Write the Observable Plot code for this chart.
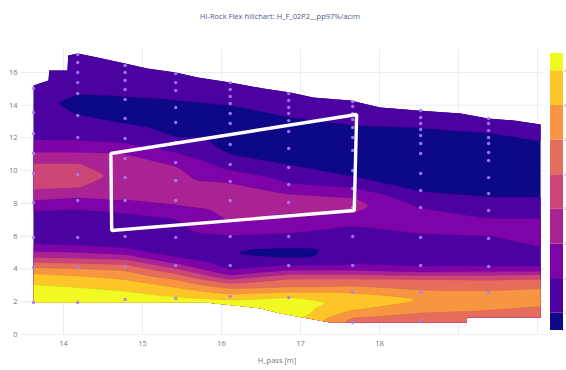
<!DOCTYPE html>
<html><head><meta charset="utf-8">
<script src="https://cdn.jsdelivr.net/npm/d3@7"></script>
<script src="https://cdn.jsdelivr.net/npm/@observablehq/plot@0.6"></script>
<style>
html,body{margin:0;padding:0;background:#fff;overflow:hidden;}
#wrap{position:relative;width:566px;height:370px;overflow:hidden;font-family:"Open Sans",sans-serif;}
#title{position:absolute;top:11px;left:0;width:560px;text-align:center;font-size:7.5px;color:#4d5b7c;}
#chart{position:absolute;left:0;top:0;width:566px;}
#cbar{position:absolute;left:546px;top:0;width:20px;}
#cbar svg{max-width:none !important;}
</style></head><body>
<div id="wrap"><div id="chart"></div><div id="cbar"></div><div id="title"></div></div>
<script>
const titleText = "Hi-Rock Flex hillchart: H_F_02P2__pp97%/acim";
const xLabel = "H_pass [m]";
const xTicks = [14, 15, 16, 17, 18];
const xGrid = [14, 15, 16, 17, 18, 19, 20];
const yTicks = [0, 2, 4, 6, 8, 10, 12, 14, 16];
const levels = [0, 1, 2, 3, 4, 5, 6, 7, 8];
const colorTickPos = [0.5, 1.5, 2.5, 3.5, 4.5, 5.5, 6.5, 7.5];
const colorTickLabels = ["1", "2", "2", "3", "3", "2", "3", "3"];

// contour profiles: for each column x, [y, level value] pairs (top -> bottom)
const profileX = [13.62, 14.18, 14.78, 15.42, 16.11, 16.85, 17.66, 18.52, 19.38, 20.04];
const profiles = [
  [[16.5,1.5],[15.2,1.5],[14.29,1.5],[11.84,2],[11.11,3],[10.5,4],[9.65,4.5],[8.79,4],[8.18,3],[7.57,2],[6.47,1.5],[5.43,2],[5.07,3],[4.70,4],[4.40,5],[4.09,6],[3.72,7],[3.11,8],[1.95,8.5],[1.0,8.5]],
  [[18.0,1.5],[17.09,1.5],[14.59,1],[14.0,0.5],[13.43,1],[12.5,1.5],[11.84,2],[11.11,3],[10.5,4],[9.65,4.5],[8.91,4],[8.36,3],[7.69,2],[6.5,1.5],[5.37,2],[5.01,3],[4.64,4],[4.33,5],[4.03,6],[3.60,7],[2.93,8],[1.95,8.5],[1.0,8.5]],
  [[17.5,1.5],[16.54,1.5],[14.47,1],[13.67,0.5],[12.88,1],[12.27,1.5],[11.66,2],[11.05,3],[9.7,3.7],[8.18,3],[7.45,2],[6.3,1.5],[5.19,2],[4.88,3],[4.58,4],[4.27,5],[3.91,6],[3.36,7],[2.69,8],[1.95,8.5],[1.0,8.5]],
  [[17.0,1.5],[16.0,1.5],[14.29,1],[13.0,0.5],[12.03,1],[11.5,1.5],[11.11,2],[10.32,3],[9.0,3.6],[7.88,3],[7.08,2],[5.9,1.5],[4.64,2],[4.33,3],[4.03,4],[3.72,5],[3.36,6],[2.87,7],[2.32,8],[1.89,8.5],[1.0,8.5]],
  [[16.5,1.5],[15.38,1.5],[13.98,1],[12.6,0.5],[10.93,1],[10.45,1.5],[10.01,2],[9.28,3],[8.0,3.6],[6.84,3],[6.04,2],[5.25,1.2],[4.95,1.0],[4.64,1.2],[3.91,2],[3.60,3],[3.36,4],[3.11,5],[2.81,6],[2.44,7],[2.14,8],[1.71,8.6],[0.8,8.6]],
  [[16.0,1.5],[14.77,1.5],[13.25,1],[11.8,0.5],[10.32,1],[9.8,1.5],[9.22,2],[8.61,3],[7.9,3.55],[7.39,3],[6.17,2],[5.7,1.5],[5.25,1],[4.98,0.4],[4.70,1],[4.45,1.5],[4.21,2],[3.91,3],[3.66,4],[3.42,5],[2.87,6],[2.56,7],[2.32,8],[1.7,8.6],[1.10,8.6],[0.5,8.6]],
  [[15.5,1.5],[14.29,1.5],[12.76,1],[11.2,0.5],[9.58,1],[8.97,2],[8.36,3],[7.9,3.4],[7.39,3],[6.65,2],[5.5,1.5],[4.21,2],[3.91,3],[3.66,4],[3.42,5],[2.93,6],[2.56,7],[2.0,7.75],[1.47,7],[1.04,6],[0.73,5.6],[0.3,5.6]],
  [[15.0,1.5],[13.68,1.5],[12.64,1],[10.2,0.5],[8.67,1],[7.75,2],[6.9,2.5],[6.17,2],[5.0,1.5],[4.09,2],[3.79,3],[3.60,4],[3.42,5],[2.69,6],[2.14,7.1],[1.34,6],[0.85,5.5],[0.4,5.5]],
  [[14.5,1.5],[13.19,1.5],[12.33,1],[9.9,0.5],[8.36,1],[7.08,2],[6.6,2.5],[6.04,2],[5.0,1.5],[4.09,2],[3.85,3],[3.60,4],[3.36,5],[2.69,6],[2.2,6.5],[1.47,6],[0.98,5.5],[0.4,5.5]],
  [[14.0,1.5],[12.82,1.5],[11.84,1],[9.5,0.5],[8.36,1],[7.08,2],[6.5,2.5],[5.31,2],[4.8,1.5],[4.09,2],[3.85,3],[3.66,4],[3.42,5],[2.81,6],[2.3,6.5],[1.71,6],[1.04,5.5],[0.4,5.5]]
];

// outline of the measured region
const topX = [13.62, 13.81, 13.82, 14.05, 14.06, 14.18, 14.43, 14.78, 15.06, 15.42, 15.70, 16.11, 16.53, 16.87, 17.16, 17.63, 18.01, 18.48, 19.03, 19.37, 19.70, 20.04];
const topY = [15.20, 15.51, 16.12, 16.12, 17.03, 17.16, 16.91, 16.54, 16.24, 16.00, 15.69, 15.38, 15.02, 14.77, 14.47, 14.29, 13.86, 13.68, 13.49, 13.19, 13.06, 12.82];
const bottomX = [13.62, 15.80, 16.49, 16.75, 17.38, 19.10, 19.11, 20.04];
const bottomY = [1.95, 1.95, 1.60, 1.28, 0.73, 0.73, 1.04, 1.04];

// measurement points
const dotColX = [13.62, 14.18, 14.78, 15.42, 16.11, 16.85, 17.66, 18.52, 19.38];
const dotColY = [
  [15.02, 13.55, 12.27, 11.05, 9.83, 8.06, 5.92, 4.09, 1.95],
  [17.09, 16.61, 16.0, 15.38, 14.71, 13.37, 12.03, 9.77, 8.18, 5.92, 4.09, 1.95],
  [16.42, 16.0, 15.51, 14.96, 14.35, 13.19, 11.97, 10.74, 9.58, 8.18, 5.98, 4.15, 2.14],
  [15.93, 15.38, 14.90, 13.86, 12.94, 11.72, 10.50, 9.40, 8.18, 5.92, 4.21, 2.20],
  [15.38, 14.96, 14.53, 14.10, 13.49, 12.88, 11.60, 10.38, 9.34, 8.18, 5.98, 4.21, 2.32],
  [14.71, 14.29, 13.86, 13.49, 13.06, 12.39, 11.36, 10.20, 9.16, 8.06, 5.98, 4.21, 2.26],
  [14.22, 13.92, 13.49, 13.13, 12.64, 12.03, 11.23, 10.01, 8.91, 7.75, 5.98, 4.21, 2.56, 0.73],
  [13.68, 13.25, 12.88, 12.52, 12.15, 11.66, 11.05, 9.83, 8.79, 7.75, 5.92, 4.21, 2.56, 0.85],
  [13.19, 12.88, 12.45, 12.03, 11.66, 11.11, 10.62, 9.58, 8.61, 7.57, 5.86, 4.15, 2.56]
];

// highlighted operating window
const boxX = [14.60, 17.71, 17.68, 14.61];
const boxY = [11.05, 13.43, 7.57, 6.35];

document.getElementById("title").textContent = titleText;

const points = profileX.flatMap((x, i) => profiles[i].map(([y, v]) => ({x, y, v})));
const dots = dotColX.flatMap((x, i) => dotColY[i].map(y => ({x, y})));
const box = boxX.map((x, i) => ({x, y: boxY[i]}));

const colorOpts = {type: "linear", scheme: "plasma", domain: [0, 8]};

const chart = Plot.plot({
  width: 566, height: 370,
  marginLeft: 20, marginRight: 21, marginTop: 49, marginBottom: 36,
  style: {background: "transparent", fontFamily: "'Open Sans', sans-serif", fontSize: "7.5px", color: "#777"},
  x: {domain: [13.456, 20.1], ticks: xTicks, tickSize: 0, tickPadding: 6, label: null, tickFormat: d => String(d)},
  y: {domain: [0, 17.4], ticks: yTicks, tickSize: 0, tickPadding: 3, label: null, tickFormat: d => String(d)},
  color: colorOpts,
  marks: [
    Plot.ruleX(xGrid, {stroke: "#ececec"}),
    Plot.ruleY(yTicks, {stroke: "#ececec"}),
    Plot.contour(points, {x: "x", y: "y", value: "v", fill: "value", interpolate: "barycentric", thresholds: levels,
      x1: profileX[0], x2: profileX[profileX.length - 1], y1: 0.3, y2: 17.4,
      pixelSize: 1, blur: 1.5, stroke: "#000", strokeOpacity: 0.12, strokeWidth: 0.5, ariaLabel: "contour"}),
    Plot.dot(dots, {x: "x", y: "y", r: 1.7, fill: "#a97ef5", fillOpacity: 0.9, stroke: null}),
    Plot.line(box, {x: "x", y: "y", curve: "linear-closed", stroke: "white", strokeWidth: 3.4, strokeLinejoin: "miter"}),
    Plot.text([xLabel], {frameAnchor: "bottom", dy: 28, dx: -6, text: d => d, fill: "#777", fontSize: 7.5})
  ]
});

// clip the contour to the measured region, using the chart's own scales
const sx = chart.scale("x"), sy = chart.scale("y");
const outline = topX.map((x, i) => [sx.apply(x), sy.apply(topY[i])])
  .concat(bottomX.map((x, i) => [sx.apply(x), sy.apply(bottomY[i])]).reverse());
const ns = "http://www.w3.org/2000/svg";
const defs = document.createElementNS(ns, "defs");
const cp = document.createElementNS(ns, "clipPath");
cp.setAttribute("id", "dataclip");
const cpPath = document.createElementNS(ns, "path");
cpPath.setAttribute("d", "M" + outline.map(p => p.join(",")).join("L") + "Z");
cp.appendChild(cpPath); defs.appendChild(cp);
chart.insertBefore(defs, chart.firstChild);
const cg = chart.querySelector('[aria-label="contour"]');
if (cg) cg.setAttribute("clip-path", "url(#dataclip)");
document.getElementById("chart").appendChild(chart);

const cb = Plot.plot({
  width: 20, height: 370, marginLeft: 4, marginRight: 3, marginTop: 53, marginBottom: 40,
  style: {background: "transparent", fontFamily: "'Open Sans', sans-serif", fontSize: "3.5px", color: "#888", overflow: "visible", maxWidth: "none"},
  x: {domain: [0, 1], axis: null},
  y: {domain: [0, 8], axis: "right", ticks: colorTickPos, tickFormat: d => colorTickLabels[colorTickPos.indexOf(d)], tickSize: 0, tickPadding: 0.6, label: null},
  color: colorOpts,
  marks: [
    Plot.rect(levels, {x1: d => 0, x2: d => 1, y1: d => Math.max(0, d - 0.5), y2: d => Math.min(8, d + 0.5), fill: d => d})
  ]
});
document.getElementById("cbar").appendChild(cb);
</script>
</body></html>
